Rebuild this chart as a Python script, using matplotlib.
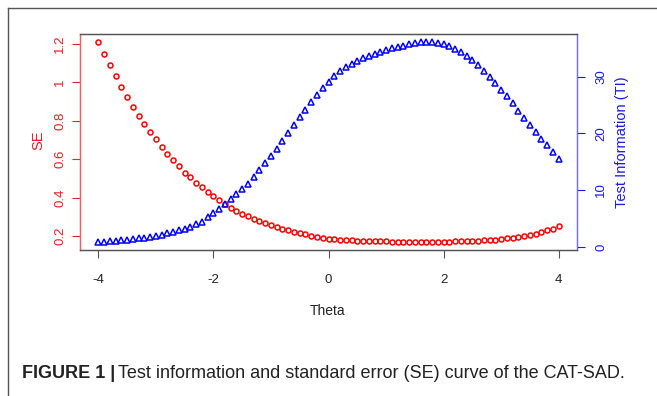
import numpy as np
import matplotlib
matplotlib.use("Agg")
import matplotlib.pyplot as plt
from matplotlib.lines import Line2D

plt.rcParams['font.family'] = ['Liberation Sans', 'DejaVu Sans']

# Theta grid (-4 .. 4, step 0.1)
theta = np.round(np.arange(-40, 41) / 10.0, 1)

# Standard error
se = [1.208, 1.144, 1.086, 1.029, 0.975, 0.921, 0.871, 0.824, 0.781, 0.741,
      0.702, 0.664, 0.627, 0.594, 0.562, 0.530, 0.505, 0.478, 0.453, 0.428,
      0.409, 0.385, 0.366, 0.347, 0.330, 0.316, 0.304, 0.290, 0.278, 0.266,
      0.255, 0.245, 0.236, 0.229, 0.222, 0.215, 0.209, 0.202, 0.197, 0.191,
      0.185, 0.183, 0.181, 0.179, 0.178, 0.176, 0.176, 0.174, 0.174, 0.173,
      0.173, 0.171, 0.171, 0.171, 0.170, 0.170, 0.169, 0.169, 0.169, 0.170,
      0.171, 0.171, 0.172, 0.173, 0.173, 0.174, 0.176, 0.178, 0.179, 0.181,
      0.184, 0.188, 0.191, 0.197, 0.202, 0.207, 0.212, 0.221, 0.229, 0.238,
      0.253]

# Test information
ti = [0.85, 0.92, 1.00, 1.08, 1.16, 1.26, 1.36, 1.48, 1.62, 1.78,
      1.96, 2.15, 2.37, 2.62, 2.90, 3.20, 3.55, 3.95, 4.45, 5.20,
      5.95, 6.75, 7.60, 8.40, 9.30, 10.20, 11.15, 12.30, 13.50, 14.70,
      15.95, 17.30, 18.63, 20.03, 21.45, 22.80, 24.13, 25.50, 26.80, 27.95,
      29.05, 30.07, 30.95, 31.65, 32.17, 32.70, 33.22, 33.63, 34.04, 34.39,
      34.68, 34.97, 35.20, 35.44, 35.67, 35.84, 36.00, 36.08, 36.08, 35.96,
      35.70, 35.30, 34.90, 34.40, 33.65, 32.90, 32.05, 31.05, 30.00, 28.85,
      27.70, 26.50, 25.25, 24.00, 22.75, 21.50, 20.30, 19.05, 17.85, 16.70,
      15.45]

x_ticks = [-4, -2, 0, 2, 4]
se_ticks = [0.2, 0.4, 0.6, 0.8, 1.0, 1.2]
se_labels = ["0.2", "0.4", "0.6", "0.8", "1", "1.2"]
ti_ticks = [0, 10, 20, 30]

W, H = 657, 396
fig = plt.figure(figsize=(W / 100, H / 100), dpi=100)

red = "#ee1c25"
blue = "#1a1ae6"
gray = "#555555"

# frame around the figure panel (left and top only, the rest is cropped)
fig.add_artist(Line2D([8 / W, 8 / W], [0, 1 - 8 / H], color=gray, lw=1.0))
fig.add_artist(Line2D([8 / W, 1], [1 - 8 / H, 1 - 8 / H], color=gray, lw=1.0))

ax = fig.add_axes([80 / W, 1 - 250 / H, 497 / W, 216 / H])
ax.plot(theta, se, linestyle="none", marker="o", ms=3.6, mfc="none",
        mec="red", mew=1.1)
ax.margins(x=0.04, y=0.04)
ax.set_xticks(x_ticks)
ax.set_xticklabels([str(v) for v in x_ticks])
ax.set_yticks(se_ticks)
ax.set_yticklabels(se_labels)
ax.tick_params(axis="x", length=6, width=0.8, color=gray, pad=11,
               labelsize=9.5, labelcolor="#222222")
ax.tick_params(axis="y", length=6, width=0.8, color=red, pad=4,
               labelsize=9.5, labelcolor=red)
for lab in ax.get_yticklabels():
    lab.set_rotation(90)
    lab.set_va("center")

ax2 = ax.twinx()
ax2.plot(theta, ti, linestyle="none", marker="^", ms=4.9, mfc="none",
         mec="blue", mew=1.1)
ax2.margins(x=0.04, y=0.04)
ax2.set_yticks(ti_ticks)
ax2.tick_params(axis="y", length=6, width=0.8, color=blue, pad=7,
                labelsize=9.5, labelcolor=blue)
for lab in ax2.get_yticklabels():
    lab.set_rotation(90)
    lab.set_va("center")

for a in (ax, ax2):
    a.spines["top"].set_color(gray)
    a.spines["bottom"].set_color(gray)
    a.spines["left"].set_color("#e86060")
    a.spines["right"].set_color("#7070ee")
    for s in a.spines.values():
        s.set_linewidth(0.9)

# axis titles
fig.text(38 / W, 1 - 140 / H, "SE", color=red, fontsize=10.5, rotation=90,
         ha="center", va="center")
fig.text(622 / W, 1 - 142 / H, "Test Information (TI)", color=blue,
         fontsize=10.5, rotation=90, ha="center", va="center")
fig.text(328 / W, 1 - 311 / H, "Theta", color="#222222", fontsize=10,
         ha="center", va="center")

# caption
cap_y = 1 - 373 / H
t1 = fig.text(22 / W, cap_y, "FIGURE 1 |", fontsize=13, fontweight="bold",
              color="#222222", ha="left", va="center")
fig.canvas.draw()
bb = t1.get_window_extent()
fig.text((bb.x1 + 3) / W, cap_y,
         "Test information and standard error (SE) curve of the CAT-SAD.",
         fontsize=13, color="#222222", ha="left", va="center")

fig.savefig("out.png", dpi=100)
